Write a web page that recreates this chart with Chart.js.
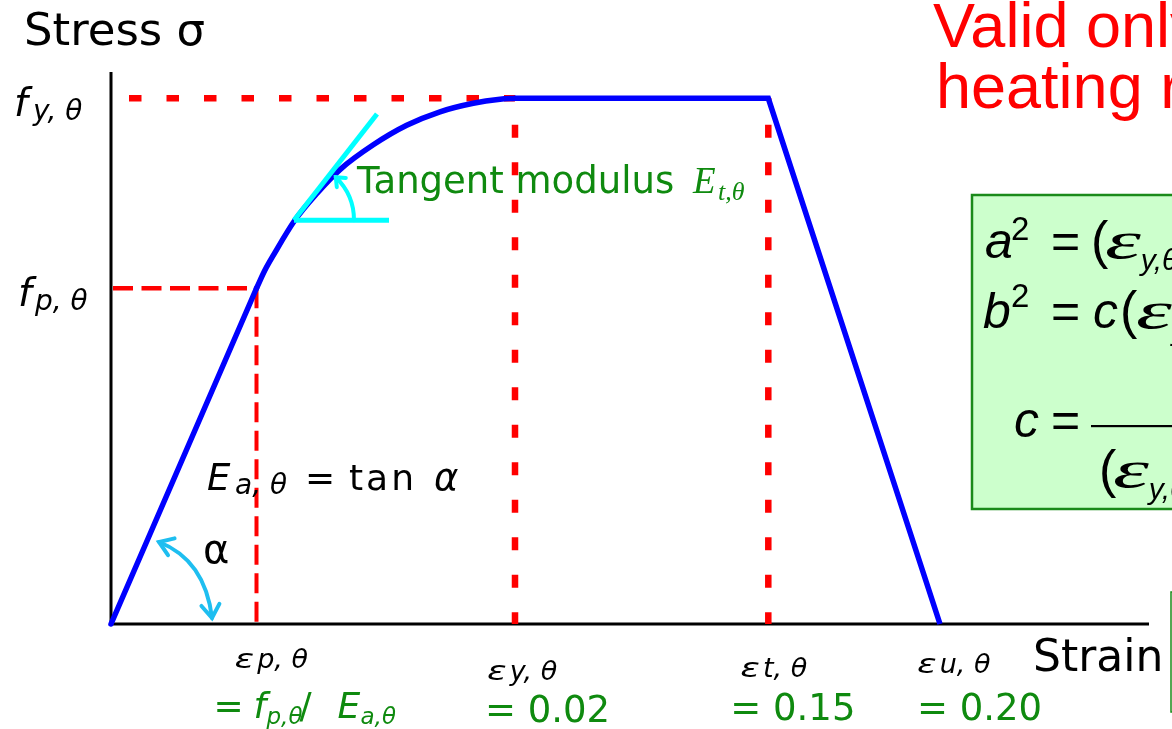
<!DOCTYPE html>
<html>
<head>
<meta charset="utf-8">
<script src="https://cdn.jsdelivr.net/npm/chart.js@4.4.1/dist/chart.umd.min.js"></script>
<style>
  html, body { margin: 0; padding: 0; background: #fff; overflow: hidden; }
  #wrap { position: relative; width: 1172px; height: 729px; }
</style>
</head>
<body>
<div id="wrap"><canvas id="c" width="1172" height="729"></canvas></div>
<script>
// Stress-strain relationship of carbon steel at elevated temperature (schematic).
// The strain axis is schematic (not to scale); stress is expressed relative to f_y,θ.

// characteristic strains along the schematic strain axis
const strainKeys   = ['p', 'y', 't', 'u'];
const strainPos    = [1.455, 4.04, 6.573, 8.29];
const strainValues = [null, 0.02, 0.15, 0.20];

// characteristic stresses
const stressKeys   = ['y', 'p'];
const stressLevels = [1.0, 0.6386];

// linear elastic branch, slope E_a,θ
const elasticX = [0, 1.455];
const elasticY = [0, 0.6386];

// elliptical branch between f_p,θ and f_y,θ
const ellipseX = [1.455, 1.54, 1.623, 1.84, 2.057, 2.29, 2.623, 2.957, 3.29, 3.623, 3.89, 4.04];
const ellipseY = [0.6386, 0.6734, 0.7013, 0.7685, 0.8187, 0.8644, 0.9115, 0.9486, 0.9743, 0.9905, 0.9981, 1.0];

// yield plateau and linear descending branch
const plateauX = [4.04, 6.573, 8.29];
const plateauY = [1.0, 1.0, 0];

// tangent drawn on the elliptical branch
const tangentX = [1.83, 2.66];
const tangentY = [0.768, 0.970];
const tangentBaseX = [1.83, 2.78];
const tangentBaseY = [0.768, 0.768];

const xMax = 10.38, yMax = 1.05;

const pts = (xs, ys) => xs.map((x, i) => ({ x: x, y: ys[i] }));

const RED = '#FF0000', BLUE = '#0000FF', CYAN = '#00FFFF', GREEN = '#0F8A0F';

function line(data, color, width, extra) {
  return Object.assign({
    data: data, borderColor: color, borderWidth: width, pointRadius: 0,
    fill: false, tension: 0, clip: false, borderCapStyle: 'butt'
  }, extra || {});
}

const datasets = [
  // axes
  line([{ x: 0, y: 0 }, { x: xMax, y: 0 }], '#000', 3, { order: 9 }),
  line([{ x: 0, y: 0 }, { x: 0, y: yMax }], '#000', 3, { order: 9 }),
  // guide lines to f_y,θ and f_p,θ
  line([{ x: 0.18, y: stressLevels[0] }, { x: strainPos[1], y: stressLevels[0] }], RED, 6.5,
       { borderDash: [12.5, 25], order: 5 }),
  line([{ x: 0.02, y: stressLevels[1] }, { x: strainPos[0], y: stressLevels[1] }], RED, 4.5,
       { borderDash: [20, 8.5], order: 5 }),
  // guide lines down to the characteristic strains
  line([{ x: strainPos[0], y: stressLevels[1] }, { x: strainPos[0], y: 0 }], RED, 4,
       { borderDash: [20, 8.5], order: 5 }),
  line([{ x: strainPos[1], y: stressLevels[0] }, { x: strainPos[1], y: 0 }], RED, 6.5,
       { borderDash: [13, 24.5], borderDashOffset: 11, order: 5 }),
  line([{ x: strainPos[2], y: stressLevels[0] }, { x: strainPos[2], y: 0 }], RED, 6.5,
       { borderDash: [13, 24.5], borderDashOffset: 11, order: 5 }),
  // stress-strain curve
  line(pts(elasticX, elasticY), BLUE, 5.5, { borderCapStyle: 'round', order: 2 }),
  line(pts(ellipseX, ellipseY), BLUE, 5.5, { cubicInterpolationMode: 'monotone', borderCapStyle: 'round', order: 2 }),
  line(pts(plateauX, plateauY), BLUE, 5.5, { borderJoinStyle: 'miter', order: 2 }),
  // tangent modulus
  line(pts(tangentX, tangentY), CYAN, 5, { order: 1 }),
  line(pts(tangentBaseX, tangentBaseY), CYAN, 5, { order: 1 })
];

const SANS = '"DejaVu Sans"';
const r  = s => s + 'px ' + SANS;
const it = s => 'italic ' + s + 'px ' + SANS;
const serifIt = s => 'italic ' + s + 'px "Liberation Serif"';
const arial = (s, st) => (st || '') + ' ' + s + 'px "Liberation Sans"';

// text pieces placed at offsets from a base point
function pieces(ctx, bx, by, parts) {
  for (const p of parts) {
    ctx.font = p.f;
    ctx.save();
    if (p.ls) ctx.letterSpacing = p.ls;
    ctx.translate(bx + p.x, by + (p.dy || 0));
    ctx.scale(p.sx || 1, 1);
    ctx.fillText(p.t, 0, 0);
    ctx.restore();
  }
}
// text pieces flowing one after another
function flow(ctx, x, y, parts) {
  let cx = x;
  for (const p of parts) {
    ctx.font = p.f;
    const w = ctx.measureText(p.t).width * (p.sx || 1);
    ctx.save();
    ctx.translate(cx, y + (p.dy || 0));
    ctx.scale(p.sx || 1, 1);
    ctx.fillText(p.t, 0, 0);
    ctx.restore();
    cx += w + (p.gap || 0);
  }
  return cx;
}

function chevron(ctx, tx, ty, dx, dy, len, half) {
  const a = Math.atan2(dy, dx);
  ctx.beginPath();
  ctx.moveTo(tx - len * Math.cos(a - half), ty - len * Math.sin(a - half));
  ctx.lineTo(tx, ty);
  ctx.lineTo(tx - len * Math.cos(a + half), ty - len * Math.sin(a + half));
  ctx.stroke();
}

const annotations = {
  id: 'annotations',
  beforeDraw(chart) {
    const c = chart.ctx;
    c.save(); c.fillStyle = '#fff'; c.fillRect(0, 0, chart.width, chart.height); c.restore();
  },
  afterDatasetsDraw(chart) {
    const ctx = chart.ctx;
    const xs = chart.scales.x, ys = chart.scales.y;
    const px = v => xs.getPixelForValue(v), py = v => ys.getPixelForValue(v);
    ctx.save();
    ctx.textBaseline = 'alphabetic';
    ctx.textAlign = 'left';

    // axis titles
    ctx.fillStyle = '#000';
    ctx.font = r(45);
    ctx.fillText('Stress σ', 24, 45);
    ctx.font = r(44);
    ctx.fillText('Strain', 1033, 671);

    // stress labels f_y,θ and f_p,θ
    const fdx = [[14, 33], [18, 35]];
    stressKeys.forEach((k, i) => {
      pieces(ctx, 0, py(stressLevels[i]) + 18, [
        { t: 'f', f: it(39), x: fdx[i][0] },
        { t: k + ', θ', f: it(28), x: fdx[i][1], dy: 4 }
      ]);
    });

    // strain labels ε_p,θ ... ε_u,θ
    const sdx = [-22, -28, -28, -23], sBase = [668, 680, 677, 673];
    strainKeys.forEach((k, i) => {
      flow(ctx, px(strainPos[i]) + sdx[i], sBase[i],
        [{ t: 'ε', f: it(27), sx: 1.35, gap: 3 }, { t: k + ', θ', f: it(27) }]);
    });

    // strain values
    ctx.fillStyle = GREEN;
    pieces(ctx, px(strainPos[0]) - 43, 718, [
      { t: '=', f: r(36), x: 0 },
      { t: 'f', f: it(36), x: 40 },
      { t: 'p,θ', f: it(23), x: 53, dy: 6 },
      { t: '/', f: r(36), x: 86 },
      { t: 'E', f: it(36), x: 124 },
      { t: 'a,θ', f: it(23), x: 147, dy: 6 }
    ]);
    const vdx = [0, -30, -38, -23], vBase = [0, 722, 720, 720];
    strainValues.forEach((v, i) => {
      if (v === null) return;
      ctx.font = r(37);
      ctx.fillText('= ' + v.toFixed(2), px(strainPos[i]) + vdx[i], vBase[i]);
    });

    // tangent modulus label
    ctx.font = r(37);
    ctx.fillText('Tangent modulus', 357, 193);
    pieces(ctx, 693, 193, [
      { t: 'E', f: serifIt(37), x: 0 },
      { t: 't,θ', f: serifIt(26), x: 25, dy: 7 }
    ]);

    // E_a,θ = tan α
    ctx.fillStyle = '#000';
    pieces(ctx, 207, 490, [
      { t: 'E', f: it(37), x: 0 },
      { t: 'a, θ', f: it(28), x: 28, dy: 4 },
      { t: '=', f: r(36), x: 98 },
      { t: 'tan', f: r(36), x: 142, ls: '3px' },
      { t: 'α', f: it(37), x: 227 }
    ]);
    ctx.font = r(40);
    ctx.fillText('α', 203, 563);

    // tangent angle arc
    const vx = px(tangentX[0]), vy = py(tangentY[0]);
    const rad = 60, end = -0.80;
    ctx.strokeStyle = CYAN;
    ctx.lineWidth = 4;
    ctx.lineCap = 'round';
    ctx.beginPath();
    ctx.arc(vx, vy, rad, 0, end, true);
    ctx.stroke();
    chevron(ctx, vx + rad * Math.cos(end), vy + rad * Math.sin(end),
            Math.sin(end), -Math.cos(end), 10, 0.7);

    // angle α between elastic branch and strain axis
    const ox = px(0), oy = py(0);
    const s = [ox + 48, oy - 82], cp = [ox + 94, oy - 64], e = [ox + 101, oy - 6];
    ctx.strokeStyle = '#1EBEF0';
    ctx.beginPath();
    ctx.moveTo(s[0], s[1]);
    ctx.quadraticCurveTo(cp[0], cp[1], e[0], e[1]);
    ctx.stroke();
    chevron(ctx, s[0], s[1], s[0] - cp[0], s[1] - cp[1], 16, 0.6);
    chevron(ctx, e[0], e[1], e[0] - cp[0], e[1] - cp[1], 16, 0.6);

    // note on validity
    ctx.fillStyle = RED;
    ctx.font = arial(63);
    ctx.fillText('Valid only for', 933, 47);
    ctx.fillText('heating rates', 936, 108);

    // parameters of the elliptical branch
    ctx.fillStyle = '#CCFFCC';
    ctx.strokeStyle = '#1A8A1A';
    ctx.lineWidth = 2.5;
    ctx.fillRect(972, 195, 420, 314);
    ctx.strokeRect(972, 195, 420, 314);
    ctx.lineWidth = 1.5;
    ctx.strokeRect(1171, 592, 200, 120);

    ctx.fillStyle = '#000';
    const A = s => arial(s, 'italic'), N = s => arial(s);
    const epsTail = k => [
      { t: 'ε', f: serifIt(52), sx: 1.75, gap: 0 },
      { t: k + ',θ', f: A(30), dy: 12, gap: 4 }
    ];
    // a²
    pieces(ctx, 0, 258, [
      { t: 'a', f: A(50), x: 985 },
      { t: '2', f: N(33), x: 1011, dy: -18 },
      { t: '=', f: N(50), x: 1051 },
      { t: '(', f: N(52), x: 1091 }
    ]);
    flow(ctx, 1105, 258, [...epsTail('y'), { t: '− ', f: N(50) }, ...epsTail('p'), { t: ')', f: N(52) }]);
    // b²
    pieces(ctx, 0, 328, [
      { t: 'b', f: A(50), x: 983 },
      { t: '2', f: N(33), x: 1011, dy: -21 },
      { t: '=', f: N(50), x: 1051 },
      { t: 'c', f: A(50), x: 1093 },
      { t: '(', f: N(52), x: 1120 }
    ]);
    flow(ctx, 1136, 328, [...epsTail('y'), { t: '− ', f: N(50) }, ...epsTail('p'), { t: ')', f: N(52) }]);
    // c
    pieces(ctx, 0, 437, [
      { t: 'c', f: A(50), x: 1014 },
      { t: '=', f: N(50), x: 1051 }
    ]);
    ctx.fillRect(1091, 425, 600, 2.2);
    pieces(ctx, 0, 487, [{ t: '(', f: N(52), x: 1099 }]);
    flow(ctx, 1113, 487, [...epsTail('y'), { t: '− ', f: N(50) }, ...epsTail('p'), { t: ')', f: N(52) }]);

    ctx.restore();
  }
};

new Chart(document.getElementById('c'), {
  type: 'line',
  data: { datasets: datasets },
  options: {
    responsive: false,
    animation: false,
    devicePixelRatio: 1,
    layout: { padding: { left: 111, right: 23, top: 72, bottom: 105 } },
    plugins: { legend: { display: false }, tooltip: { enabled: false } },
    scales: {
      x: { type: 'linear', min: 0, max: xMax, display: false },
      y: { type: 'linear', min: 0, max: yMax, display: false }
    }
  },
  plugins: [annotations]
});
</script>
</body>
</html>
